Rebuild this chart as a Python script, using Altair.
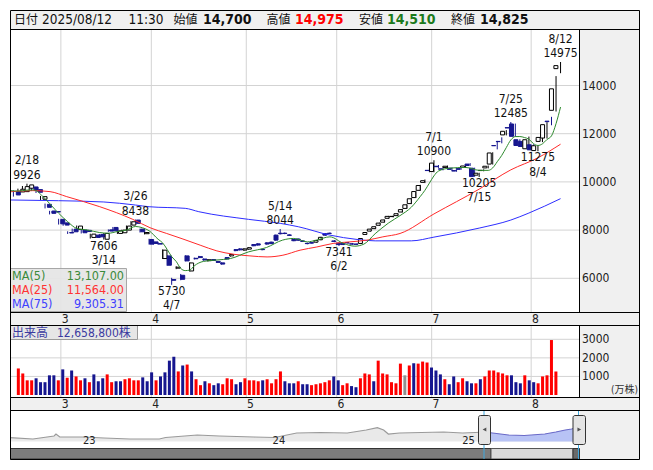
import altair as alt
import pandas as pd

FONT = "DejaVu Sans Condensed, DejaVu Sans, Noto Sans CJK JP, sans-serif"
DOWN = "#16168f"

# ---------------- data ----------------
opens = [9596, 9583, 9596, 9737, 9790, 9680, 9280, 9070, 8790, 8770,
         8446, 8300, 7900, 8042, 8029, 8000, 7990, 7695, 7792, 7820,
         7620, 8010, 8110, 7862, 7890, 8000, 8208, 8417, 8042, 7850,
         7610, 7510, 7440, 6820, 6929, 5950, 6420, 6125, 6929, 6304,
         6830, 6900, 6800, 6730, 6780, 6700, 6640, 6860, 6930, 7190,
         7220, 7170, 7210, 7400, 7430, 7200, 7470, 7500, 7792, 7870,
         7870, 7800, 7610, 7630, 7550, 7450, 7480, 7500, 7600, 7850,
         7870, 7550, 7460, 7440, 7480, 7430, 7420, 7446, 7820, 7960,
         8060, 8200, 8330, 8490, 8560, 8600, 8750, 8900, 9100, 9350,
         9650, 9980, 10480, 10430, 10650, 10540, 10600, 10570, 10470, 10560,
         10600, 10740, 10570, 10280, 10470, 10580, 10740, 11510, 11680, 11950,
         12250, 12404, 11750, 11680, 11375, 11540, 11300, 11680, 11820, 12520,
         12970, 14700]
highs = [9650, 9720, 9830, 9926, 9820, 9700, 9420, 9100, 8800, 8800,
         8470, 8330, 7950, 8060, 8190, 8020, 8010, 7850, 7810, 7840,
         7880, 8030, 8130, 7990, 8020, 8190, 8370, 8438, 8060, 7930,
         7640, 7530, 7470, 7200, 6960, 6020, 6500, 6180, 6960, 6660,
         6860, 6930, 6820, 6790, 6800, 6720, 6660, 6880, 7010, 7210,
         7240, 7240, 7290, 7420, 7450, 7230, 7490, 7520, 7810, 8044,
         7900, 7830, 7630, 7650, 7580, 7480, 7500, 7590, 7720, 7870,
         7900, 7580, 7480, 7460, 7500, 7460, 7440, 7670, 7920, 8060,
         8160, 8310, 8440, 8590, 8600, 8700, 8870, 9070, 9330, 9630,
         9880, 10100, 10560, 10900, 10700, 10600, 10680, 10600, 10500, 10590,
         10700, 10780, 10590, 10380, 10520, 10680, 11230, 11700, 11850, 12150,
         12485, 12420, 11770, 11700, 11880, 11560, 11520, 11880, 12480, 12700,
         14390, 14975]
lows = [9390, 9550, 9580, 9700, 9620, 9540, 9250, 8900, 8650, 8720,
        8230, 8180, 7840, 7900, 8000, 7860, 7900, 7650, 7680, 7700,
        7606, 7930, 7950, 7840, 7870, 7980, 8190, 8250, 7900, 7820,
        7400, 7400, 7390, 6800, 6520, 5730, 6380, 5920, 6700, 6280,
        6780, 6840, 6730, 6700, 6720, 6640, 6570, 6780, 6900, 7120,
        7160, 7150, 7190, 7330, 7360, 7160, 7400, 7420, 7560, 7820,
        7830, 7760, 7540, 7560, 7510, 7410, 7440, 7480, 7580, 7770,
        7830, 7500, 7341, 7380, 7440, 7400, 7390, 7430, 7800, 7940,
        8040, 8180, 8310, 8470, 8530, 8580, 8730, 8880, 9080, 9330,
        9630, 9950, 10400, 10400, 10580, 10480, 10560, 10500, 10420, 10500,
        10580, 10660, 10210, 10205, 10440, 10560, 10720, 11350, 11600, 11930,
        12100, 11870, 11490, 11450, 11350, 11310, 11275, 11650, 11800, 12350,
        12920, 14510]
closes = [9458, 9696, 9804, 9875, 9650, 9570, 9388, 8946, 8696, 8750,
          8260, 8208, 7880, 7930, 8167, 7890, 7940, 7833, 7695, 7720,
          7862, 7960, 7970, 7970, 8000, 8167, 8346, 8280, 7930, 7900,
          7417, 7446, 7420, 7167, 6542, 5917, 6460, 5958, 6721, 6637,
          6810, 6860, 6760, 6770, 6740, 6660, 6590, 6800, 6990, 7150,
          7180, 7220, 7270, 7350, 7380, 7190, 7420, 7440, 7583, 7850,
          7860, 7780, 7560, 7580, 7530, 7440, 7460, 7570, 7700, 7790,
          7860, 7530, 7400, 7400, 7470, 7420, 7410, 7650, 7900, 8040,
          8140, 8290, 8420, 8570, 8570, 8680, 8850, 9050, 9300, 9600,
          9850, 10050, 10470, 10780, 10630, 10530, 10650, 10520, 10450, 10520,
          10660, 10680, 10220, 10360, 10480, 10650, 11200, 11500, 11670, 12100,
          12240, 11890, 11510, 11470, 11750, 11330, 11500, 11845, 12375, 12500,
          13862, 14825]
volumes = [1430, 1160, 790, 790, 900, 690, 690, 1060, 1060, 790,
           1380, 930, 1320, 1000, 790, 900, 690, 1110, 740, 900,
           1110, 690, 740, 740, 850, 900, 790, 790, 950, 740,
           1220, 790, 1000, 1220, 1850, 2060, 1270, 1590, 1640, 1270,
           850, 530, 740, 630, 530, 630, 580, 900, 850, 580,
           690, 900, 790, 790, 740, 790, 850, 630, 850, 1270,
           740, 630, 630, 740, 580, 580, 530, 580, 630, 690,
           790, 1000, 790, 530, 630, 480, 420, 900, 1160, 1110,
           740, 1850, 1160, 1110, 690, 630, 1690, 1060, 1590, 1710,
           1690, 1800, 1750, 1480, 1320, 1110, 850, 580, 1000, 690,
           900, 740, 630, 630, 850, 1000, 1320, 1320, 1220, 1160,
           1060, 1060, 690, 630, 1060, 790, 690, 630, 1000, 1060,
           2960, 1266]
vol_dir = list("uuuudddddu" "duduududdd" "uudduuuudd" "duddddudud" "uududduuud"
               "duuuuduuuu" "dddudduuuu" "udduudduuu" "duuuuuunud" "uuuddduddu"
               "udduduuuuu" "udddudduuu" "uu")

ma5_i = [-0.7, 1, 3, 4.5, 6.5, 8.5, 10, 12, 14, 16.5, 19, 21, 23, 25, 27, 28.5, 30, 32,
         33, 34, 35, 36, 37, 38, 39, 40, 42, 45, 48, 52, 56, 59.5, 62, 65, 67, 70, 73,
         75.5, 77.5, 80, 83, 85.5, 88, 90, 91, 92, 93, 94, 96.5, 100, 103, 105, 106, 107,
         108, 109, 110, 111, 112, 113, 114, 115, 116, 117, 118, 119, 120, 121]
ma5_v = [9640, 9620, 9660, 9667, 9400, 9000, 8700, 8350, 8070, 8000, 7900, 7870, 7940,
         8000, 8150, 8100, 7975, 7620, 7470, 7200, 6900, 6700, 6410, 6320, 6340, 6517,
         6700, 6760, 6820, 7096, 7280, 7583, 7654, 7512, 7583, 7720, 7446, 7333, 7417,
         7850, 8300, 8600, 8950, 9400, 9650, 9950, 10250, 10450, 10570, 10600, 10480,
         10478, 10582, 10838, 11100, 11424, 11742, 11880, 11882, 11842, 11772, 11590,
         11512, 11580, 11760, 11910, 12416, 13107]
ma25_i = [-0.7, 4.3, 8.1, 11.8, 19.1, 26.4, 30.2, 33.9, 37.5, 41.3, 45, 48.6, 52.3, 56.1,
          59.6, 63.4, 67.1, 70.7, 74.4, 78.2, 81.7, 85.5, 93, 103, 110, 116, 121]
ma25_v = [9590, 9638, 9596, 9388, 8971, 8446, 8100, 7860, 7630, 7375, 7137, 7000, 6930,
          6887, 6958, 7167, 7300, 7446, 7512, 7583, 7720, 7860, 8670, 9700, 10500, 11000,
          11564]
ma75_i = [-0.7, 10, 20, 27, 30, 38, 41, 52, 59, 63, 70, 76, 80, 88, 93, 103, 110, 114, 121]
ma75_v = [9250, 9220, 9167, 9040, 8970, 8903, 8764, 8446, 8280, 8140, 7792, 7612, 7554,
          7554, 7708, 8083, 8417, 8708, 9305]

month_first = [11, 31, 52, 72, 93, 115]
month_names = ["3", "4", "5", "6", "7", "8"]
price_ticks = [6000, 8000, 10000, 12000, 14000]
vol_ticks = [1000, 2000, 3000]

hi_idx = [3, 27, 59, 93, 110, 121]
hi_date = ["2/18", "3/26", "5/14", "7/1", "7/25", "8/12"]
hi_val = [9926, 8438, 8044, 10900, 12485, 14975]
lo_idx = [20, 35, 72, 103, 116]
lo_date = ["3/14", "4/7", "6/2", "7/15", "8/4"]
lo_val = [7606, 5730, 7341, 10205, 11275]

ma_names = ["MA(5)", "MA(25)", "MA(75)"]
ma_last = ["13,107.00", "11,564.00", "9,305.31"]

nav_t = [-4.75, -3.3, -1.96, -1.84, -1.6, -0.1, 1.2, 2.85, 4.7, 5.1, 7.1, 8.5, 10.7, 12.0,
         13.4, 14.9, 16.6, 17.8, 18.5, 18.9, 19.2, 19.9, 22.7, 23.9, 24.7, 25.25, 25.8,
         26.8, 27.8, 29.1, 29.8, 30.4, 30.8, 31.2]
nav_v = [4020, 2680, 5770, 7830, 4740, 4740, 3710, 2680, 2680, 4220, 6800, 5770, 4740,
         4220, 8860, 9370, 8860, 11950, 14320, 11950, 7830, 8860, 9890, 8860, 9370, 9890,
         8860, 6800, 6280, 7830, 9890, 11950, 12980, 15040]
nav_years = ["23", "24", "25"]
nav_year_t = [0, 12, 24]
sel_start = 25.25

# ---------------- scales ----------------
xs = alt.Scale(domain=[-0.75, 125.3], range=[0, 570], nice=False, zero=False)
ps = alt.Scale(domain=[6000, 14000], range=[268.3, 75.5], nice=False, zero=False)
vs = alt.Scale(domain=[0, 3000], range=[385, 329.3], nice=False, zero=False)
nxs = alt.Scale(domain=[-4.75, 31.33], range=[0, 570], nice=False, zero=False)
nys = alt.Scale(domain=[0, 30000], range=[431.6, 402.5], nice=False, zero=False)

one = pd.DataFrame({"k": [0]})


def box(x1, y1, x2, y2, fill=None, stroke=None, sw=1, opacity=1.0, radius=0):
    kw = dict(strokeWidth=sw, opacity=opacity, cornerRadius=radius)
    if fill:
        kw["fill"] = fill
    else:
        kw["fillOpacity"] = 0
    if stroke:
        kw["stroke"] = stroke
    else:
        kw["strokeWidth"] = 0
    return alt.Chart(one).mark_rect(**kw).encode(
        x=alt.value(x1), x2=alt.value(x2), y=alt.value(y1), y2=alt.value(y2))


def hline(x1, x2, y, color="#000"):
    return alt.Chart(one).mark_rule(color=color, strokeWidth=1).encode(
        x=alt.value(x1), x2=alt.value(x2), y=alt.value(y))


def vline(x, y1, y2, color="#000"):
    return alt.Chart(one).mark_rule(color=color, strokeWidth=1).encode(
        x=alt.value(x), y=alt.value(y1), y2=alt.value(y2))


def txt(x, y, s, size=12, color="#111", align="left", weight="normal", baseline="middle"):
    return alt.Chart(pd.DataFrame({"t": [s]})).mark_text(
        align=align, baseline=baseline, fontSize=size, color=color,
        fontWeight=weight, font=FONT).encode(x=alt.value(x), y=alt.value(y), text="t:N")


def X(f="i:Q"):
    return alt.X(f, scale=xs, axis=None)


n = len(closes)
candles = pd.DataFrame({"i": list(range(n)), "o": opens, "h": highs, "l": lows, "c": closes})
vol = pd.DataFrame({"i": list(range(n)), "v": volumes, "d": vol_dir})
up = alt.datum.c >= alt.datum.o

L = []
# backgrounds
L.append(box(0, 0, 630, 450, fill="#f0f0f0"))
L.append(box(0, 19, 570, 302, fill="#ffffff"))
L.append(box(0, 315, 570, 387, fill="#ffffff"))
L.append(box(0, 400, 570, 438, fill="#ffffff"))

# price grid
L.append(alt.Chart(pd.DataFrame({"p": price_ticks})).mark_rule(color="#d3d3d3").encode(
    y=alt.Y("p:Q", scale=ps, axis=None), x=alt.value(0), x2=alt.value(570)))
months = pd.DataFrame({"m": month_first, "lab": month_names})
L.append(alt.Chart(months).transform_calculate(g="datum.m - 0.5").mark_rule(color="#d3d3d3").encode(
    x=X("g:Q"), y=alt.value(19), y2=alt.value(302)))
# volume grid
L.append(alt.Chart(pd.DataFrame({"v": vol_ticks})).mark_rule(color="#d3d3d3").encode(
    y=alt.Y("v:Q", scale=vs, axis=None), x=alt.value(0), x2=alt.value(570)))
L.append(alt.Chart(months).transform_calculate(g="datum.m - 0.5").mark_rule(color="#d3d3d3").encode(
    x=X("g:Q"), y=alt.value(315), y2=alt.value(387)))

# candles
L.append(alt.Chart(candles).mark_rule(strokeWidth=1).encode(
    x=X(), y=alt.Y("l:Q", scale=ps, axis=None), y2="h:Q",
    stroke=alt.when(up).then(alt.value("#000000")).otherwise(alt.value(DOWN))))
L.append(alt.Chart(candles).mark_bar(size=4, strokeWidth=1).encode(
    x=X(), y=alt.Y("o:Q", scale=ps, axis=None), y2="c:Q",
    fill=alt.when(up).then(alt.value("#ffffff")).otherwise(alt.value(DOWN)),
    stroke=alt.when(up).then(alt.value("#000000")).otherwise(alt.value(DOWN))))

# moving averages
for mi, mv, col in [(ma75_i, ma75_v, "#2e2eff"), (ma25_i, ma25_v, "#ff2a2a"), (ma5_i, ma5_v, "#2d8a2d")]:
    L.append(alt.Chart(pd.DataFrame({"i": mi, "v": mv})).mark_line(
        color=col, strokeWidth=1, interpolate="monotone").encode(
        x=X(), y=alt.Y("v:Q", scale=ps, axis=None)))

# high / low annotations
hi = pd.DataFrame({"i": hi_idx, "p": hi_val, "d": hi_date})
lo = pd.DataFrame({"i": lo_idx, "p": lo_val, "d": lo_date})
AF = 12
L.append(alt.Chart(hi).mark_text(baseline="alphabetic", dy=-5, fontSize=AF, font=FONT, color="#111").encode(
    x=X(), y=alt.Y("p:Q", scale=ps, axis=None), text=alt.Text("p:Q", format="d")))
L.append(alt.Chart(hi).mark_text(baseline="alphabetic", dy=-19.5, fontSize=AF, font=FONT, color="#111").encode(
    x=X(), y=alt.Y("p:Q", scale=ps, axis=None), text="d:N"))
L.append(alt.Chart(lo).mark_text(baseline="top", dy=1, fontSize=AF, font=FONT, color="#111").encode(
    x=X(), y=alt.Y("p:Q", scale=ps, axis=None), text=alt.Text("p:Q", format="d")))
L.append(alt.Chart(lo).mark_text(baseline="top", dy=15.5, fontSize=AF, font=FONT, color="#111").encode(
    x=X(), y=alt.Y("p:Q", scale=ps, axis=None), text="d:N"))

# MA legend box
L.append(box(0.5, 258.5, 116.5, 301.5, fill="#e6e6e6", stroke="#a0a0a0", opacity=0.92))
for k, (nm, val, col) in enumerate(zip(ma_names, ma_last, ["#3a8a3a", "#ff3333", "#4040ff"])):
    L.append(txt(2, 265.5 + 14.2 * k, nm, size=12.5, color=col))
    L.append(txt(114, 265.5 + 14.2 * k, val, size=12.5, color=col, align="right"))

# volume bars
L.append(alt.Chart(vol).mark_bar(size=3).encode(
    x=X(), y=alt.Y("v:Q", scale=vs, axis=None),
    color=alt.Color("d:N", scale=alt.Scale(domain=["u", "d", "n"], range=["#ff0000", DOWN, "#909090"]),
                    legend=None)))
L.append(box(0.5, 315.5, 127.5, 329.5, fill="#e6e6e6", stroke="#9a9a9a"))
L.append(txt(2, 322.5, "出来高", size=12, color="#3a3aa0"))
L.append(txt(47, 322.5, "12,658,800株", size=12, color="#3a3aa0"))

# navigator
nav = pd.DataFrame({"t": nav_t, "v": nav_v})
L.append(alt.Chart(nav).mark_area(color="#e9e9e9", interpolate="linear").encode(
    x=alt.X("t:Q", scale=nxs, axis=None), y=alt.Y("v:Q", scale=nys, axis=None), y2=alt.value(438)))
L.append(alt.Chart(nav).transform_filter(alt.datum.t >= sel_start).mark_area(color="#b8c3f5").encode(
    x=alt.X("t:Q", scale=nxs, axis=None), y=alt.Y("v:Q", scale=nys, axis=None), y2=alt.value(438)))
L.append(alt.Chart(nav).transform_filter(alt.datum.t <= sel_start).mark_line(color="#9a9a9a", strokeWidth=1.2).encode(
    x=alt.X("t:Q", scale=nxs, axis=None), y=alt.Y("v:Q", scale=nys, axis=None)))
L.append(alt.Chart(nav).transform_filter(alt.datum.t >= sel_start).mark_line(color="#6a6ac8", strokeWidth=1.2).encode(
    x=alt.X("t:Q", scale=nxs, axis=None), y=alt.Y("v:Q", scale=nys, axis=None)))
L.append(alt.Chart(pd.DataFrame({"t": nav_year_t, "y": nav_years})).mark_text(
    align="left", baseline="middle", dx=-2, fontSize=11, font=FONT, color="#222").encode(
    x=alt.X("t:Q", scale=nxs, axis=None), y=alt.value(431), text="y:N"))
# scrollbar
L.append(box(0.5, 438.5, 481, 449, fill="#7c7c7c", stroke="#333"))
L.append(box(481, 438.5, 563, 449, fill="#dadada", stroke="#555"))
L.append(box(563, 438.5, 569.5, 449, fill="#6a6a6a", stroke="#333"))
L.append(vline(474, 400, 449, color="#3fa9df"))
L.append(vline(568.5, 400, 449, color="#3fa9df"))
L.append(box(468.5, 405.5, 480.5, 434.5, fill="#e4e4e4", stroke="#333", radius=2))
L.append(box(563, 405.5, 575.5, 434.5, fill="#e4e4e4", stroke="#333", radius=2))
L.append(alt.Chart(one).mark_point(shape="triangle-left", filled=True, size=18, color="#111").encode(
    x=alt.value(474.5), y=alt.value(419.5)))
L.append(alt.Chart(one).mark_point(shape="triangle-right", filled=True, size=18, color="#111").encode(
    x=alt.value(569.3), y=alt.value(419.5)))

# frame lines
L.append(box(0.5, 0.5, 629.5, 449.5, stroke="#000"))
L.append(hline(0, 630, 19.5))
L.append(hline(0, 630, 302.5))
L.append(hline(0, 630, 315.5))
L.append(hline(0, 630, 387.5))
L.append(hline(0, 630, 400.5))
L.append(vline(569.5, 19.5, 302.5))
L.append(vline(569.5, 315.5, 387.5))

# axis labels
L.append(alt.Chart(pd.DataFrame({"p": price_ticks})).mark_text(
    align="left", baseline="middle", fontSize=12, font=FONT, color="#222").encode(
    x=alt.value(572), y=alt.Y("p:Q", scale=ps, axis=None), text=alt.Text("p:Q", format="d")))
L.append(alt.Chart(pd.DataFrame({"v": vol_ticks})).mark_text(
    align="left", baseline="middle", fontSize=12, font=FONT, color="#222").encode(
    x=alt.value(572), y=alt.Y("v:Q", scale=vs, axis=None), text=alt.Text("v:Q", format="d")))
L.append(txt(628, 380, "(万株)", size=10, color="#333", align="right"))
for yy in [308.8, 394]:
    L.append(alt.Chart(months).mark_text(align="center", baseline="middle", dx=2, fontSize=12,
                                         font=FONT, color="#222").encode(
        x=X("m:Q"), y=alt.value(yy), text="lab:N"))

# header
header = [(4, "日付", "normal", "#111", 12), (32, "2025/08/12", "normal", "#111", 13.5),
          (118.5, "11:30", "normal", "#111", 13.5), (163.6, "始値", "normal", "#111", 12),
          (193, "14,700", "bold", "#111", 14), (256.5, "高値", "normal", "#111", 12),
          (285, "14,975", "bold", "#ff0000", 14), (349, "安値", "normal", "#111", 12),
          (377, "14,510", "bold", "#1c7a1c", 14), (441, "終値", "normal", "#111", 12),
          (470, "14,825", "bold", "#111", 14)]
for hx, hs, hw, hc, hz in header:
    L.append(txt(hx, 10, hs, size=hz, color=hc, weight=hw))

chart = alt.layer(*L).resolve_scale(
    x="independent", y="independent", color="independent", fill="independent", stroke="independent"
).properties(
    width=630, height=450,
    padding={"left": 2, "top": 2, "right": 4, "bottom": 4},
    autosize=alt.AutoSizeParams(type="none"),
).configure_view(strokeWidth=0)

chart.save("out.html", embed_options={"renderer": "svg", "actions": False})
